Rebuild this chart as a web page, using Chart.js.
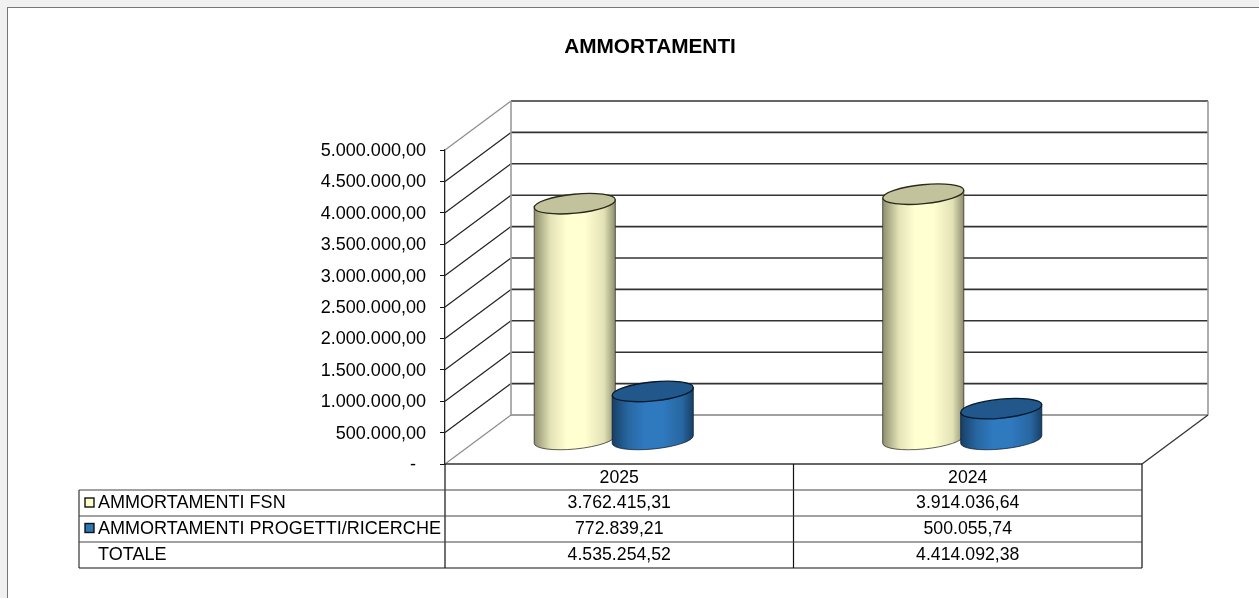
<!DOCTYPE html>
<html lang="en">
<head>
  <meta charset="UTF-8">
  <title>AMMORTAMENTI</title>
  <script src="https://cdn.jsdelivr.net/npm/chart.js"></script>
  <style>
    html, body { margin: 0; padding: 0; background: #f1f1f1; overflow: hidden; }
    #frame { position: absolute; left: 7px; top: 7px; width: 1252px; height: 591px; background: #fff;
      border-top: 1px solid #777; border-left: 1px solid #777; box-sizing: border-box; }
    #myChart { position: absolute; left: 0; top: 0; }
  </style>
</head>
<body>
  <div id="frame"></div>
  <canvas id="myChart" width="1259" height="598"></canvas>

  <script>
    const chartTitle = 'AMMORTAMENTI';
    const years = ['2025', '2024'];
    const fsnLabel = 'AMMORTAMENTI FSN';
    const progettiLabel = 'AMMORTAMENTI PROGETTI/RICERCHE';
    const totaleLabel = 'TOTALE';
    const fsn = [3762415.31, 3914036.64];
    const progetti = [772839.21, 500055.74];
    const totale = [4535254.52, 4414092.38];

    const FONT = '"Liberation Sans", Arial, sans-serif';
    const DEPTH_X = 66, DEPTH_Y = 49;
    const yellow = { light: '#ffffd2', mid: '#e2e2b6', dark: '#8d8d6e', top: '#c2c29c', line: '#2a2a1c' };
    const blue = { light: '#2f79bf', mid: '#2867a1', dark: '#173f66', top: '#21578a', line: '#07192c' };

    // italian number format, 3.762.415,31
    function fmt(v) {
      const parts = v.toFixed(2).split('.');
      return parts[0].replace(/\B(?=(\d{3})+$)/g, '.') + ',' + parts[1];
    }

    function line(ctx, x1, y1, x2, y2, color, width) {
      ctx.strokeStyle = color;
      ctx.lineWidth = width;
      ctx.beginPath();
      ctx.moveTo(x1, y1);
      ctx.lineTo(x2, y2);
      ctx.stroke();
    }

    function cylinder(ctx, cx, top, base, w, c) {
      const a = w / 2, b = 9.5, tilt = -0.098;
      const ax = a * Math.cos(tilt), ay = a * Math.sin(tilt);
      const g = ctx.createLinearGradient(cx - a, 0, cx + a, 0);
      g.addColorStop(0, c.dark);
      g.addColorStop(0.2, c.mid);
      g.addColorStop(0.4, c.light);
      g.addColorStop(0.62, c.light);
      g.addColorStop(0.86, c.mid);
      g.addColorStop(1, c.dark);

      ctx.beginPath();
      ctx.moveTo(cx - ax, top - ay);
      ctx.lineTo(cx - ax, base - ay);
      ctx.ellipse(cx, base, a, b, tilt, Math.PI, 0, true);
      ctx.lineTo(cx + ax, top + ay);
      ctx.closePath();
      ctx.fillStyle = g;
      ctx.fill();
      ctx.strokeStyle = c.line;
      ctx.globalAlpha = 0.75;
      ctx.lineWidth = 1;
      ctx.stroke();
      ctx.globalAlpha = 1;

      ctx.beginPath();
      ctx.ellipse(cx, top, a, b, tilt, 0, Math.PI * 2);
      ctx.fillStyle = c.top;
      ctx.fill();
      ctx.strokeStyle = c.line;
      ctx.lineWidth = 1.3;
      ctx.stroke();
    }

    const walls = {
      id: 'walls',
      beforeDatasetsDraw(chart) {
        const ctx = chart.ctx, a = chart.chartArea, y = chart.scales.y;
        ctx.save();
        const ticks = y.ticks;
        ticks.forEach((t, i) => {
          const py = y.getPixelForValue(t.value);
          const edge = i === 0 || i === ticks.length - 1;
          line(ctx, a.left, py, a.left + DEPTH_X, py - DEPTH_Y, edge ? '#8c8c8c' : '#222', 1.2);
          line(ctx, a.left + DEPTH_X, py - DEPTH_Y, a.right + DEPTH_X, py - DEPTH_Y, i === 0 ? '#808080' : '#333', 1.6);
        });
        line(ctx, a.left + DEPTH_X, a.top - DEPTH_Y, a.left + DEPTH_X, a.bottom - DEPTH_Y, '#9a9a9a', 1.6);
        line(ctx, a.right + DEPTH_X, a.top - DEPTH_Y, a.right + DEPTH_X, a.bottom - DEPTH_Y, '#9a9a9a', 1.6);
        line(ctx, a.right, a.bottom, a.right + DEPTH_X, a.bottom - DEPTH_Y, '#333', 1.3);
        ctx.restore();
      },
      // bars are replaced by the cylinders below
      beforeDatasetDraw() {
        return false;
      },
      afterDatasetsDraw(chart) {
        const ctx = chart.ctx;
        ctx.save();
        years.forEach((yr, j) => {
          [0, 1].forEach(i => {
            const bar = chart.getDatasetMeta(i).data[j];
            const c = i === 0 ? yellow : blue;
            cylinder(ctx, bar.x - 5.5, bar.y - 24, bar.base - 24, bar.width + 3.5, c);
          });
        });
        ctx.restore();
      }
    };

    const table = {
      id: 'table',
      afterDraw(chart) {
        const ctx = chart.ctx, a = chart.chartArea;
        const rows = [490, 516, 542, 568];
        const left = 79, textX = 98;
        const mid = (a.left + a.right) / 2;
        ctx.save();

        ctx.font = 'bold 20.8px ' + FONT;
        ctx.fillStyle = '#000';
        ctx.textAlign = 'center';
        ctx.textBaseline = 'middle';
        ctx.fillText(chartTitle, 650, 47);

        line(ctx, a.left, a.bottom, a.right, a.bottom, '#333', 1.6);
        line(ctx, a.left, a.bottom, a.left, rows[3], '#111', 1.2);
        line(ctx, mid, a.bottom, mid, rows[3], '#111', 1.2);
        line(ctx, a.right, a.bottom, a.right, rows[3], '#111', 1.2);
        line(ctx, left, rows[0], left, rows[3], '#333', 1.2);
        rows.forEach((r, i) => {
          line(ctx, left, r, a.right, r, i === 3 ? '#111' : '#444', 1.2);
        });

        ctx.font = '17.7px ' + FONT;
        ctx.fillStyle = '#000';
        const x = chart.scales.x;
        years.forEach((yr, j) => {
          const px = x.getPixelForValue(j);
          ctx.fillText(yr, px, 478);
          ctx.fillText(fmt(fsn[j]), px, 503);
          ctx.fillText(fmt(progetti[j]), px, 529);
          ctx.fillText(fmt(totale[j]), px, 555);
        });

        ctx.font = '18.05px ' + FONT;
        ctx.textAlign = 'left';
        ctx.fillText(fsnLabel, textX, 503);
        ctx.fillText(progettiLabel, textX, 529);
        ctx.fillText(totaleLabel, textX, 555);

        [[498, chart.data.datasets[0]], [523.5, chart.data.datasets[1]]].forEach(([sy, ds]) => {
          ctx.fillStyle = ds.backgroundColor;
          ctx.fillRect(85, sy, 9, 9);
          ctx.strokeStyle = '#111';
          ctx.lineWidth = 1.4;
          ctx.strokeRect(85, sy, 9, 9);
        });
        ctx.restore();
      }
    };

    new Chart(document.getElementById('myChart'), {
      type: 'bar',
      data: {
        labels: years,
        datasets: [
          { label: fsnLabel, data: fsn, backgroundColor: '#ffffcc' },
          { label: progettiLabel, data: progetti, backgroundColor: '#2e75b6' }
        ]
      },
      options: {
        responsive: false,
        animation: false,
        layout: { padding: { top: 150, right: 117, bottom: 134, left: 0 } },
        categoryPercentage: 0.4476,
        barPercentage: 1,
        plugins: {
          legend: { display: false },
          title: { display: false },
          tooltip: { enabled: false }
        },
        scales: {
          x: { display: false },
          y: {
            min: 0,
            max: 5000000,
            afterFit(scale) { scale.width = 445; },
            ticks: {
              stepSize: 500000,
              padding: 14,
              labelOffset: 1,
              color: '#000',
              font: { family: FONT, size: 18.05 },
              callback: v => v === 0 ? '-  ' : fmt(v)
            },
            grid: { drawOnChartArea: false, drawTicks: true, tickLength: 5, color: '#111' },
            border: { color: '#222', width: 1.3 }
          }
        }
      },
      plugins: [walls, table]
    });
  </script>
</body>
</html>
